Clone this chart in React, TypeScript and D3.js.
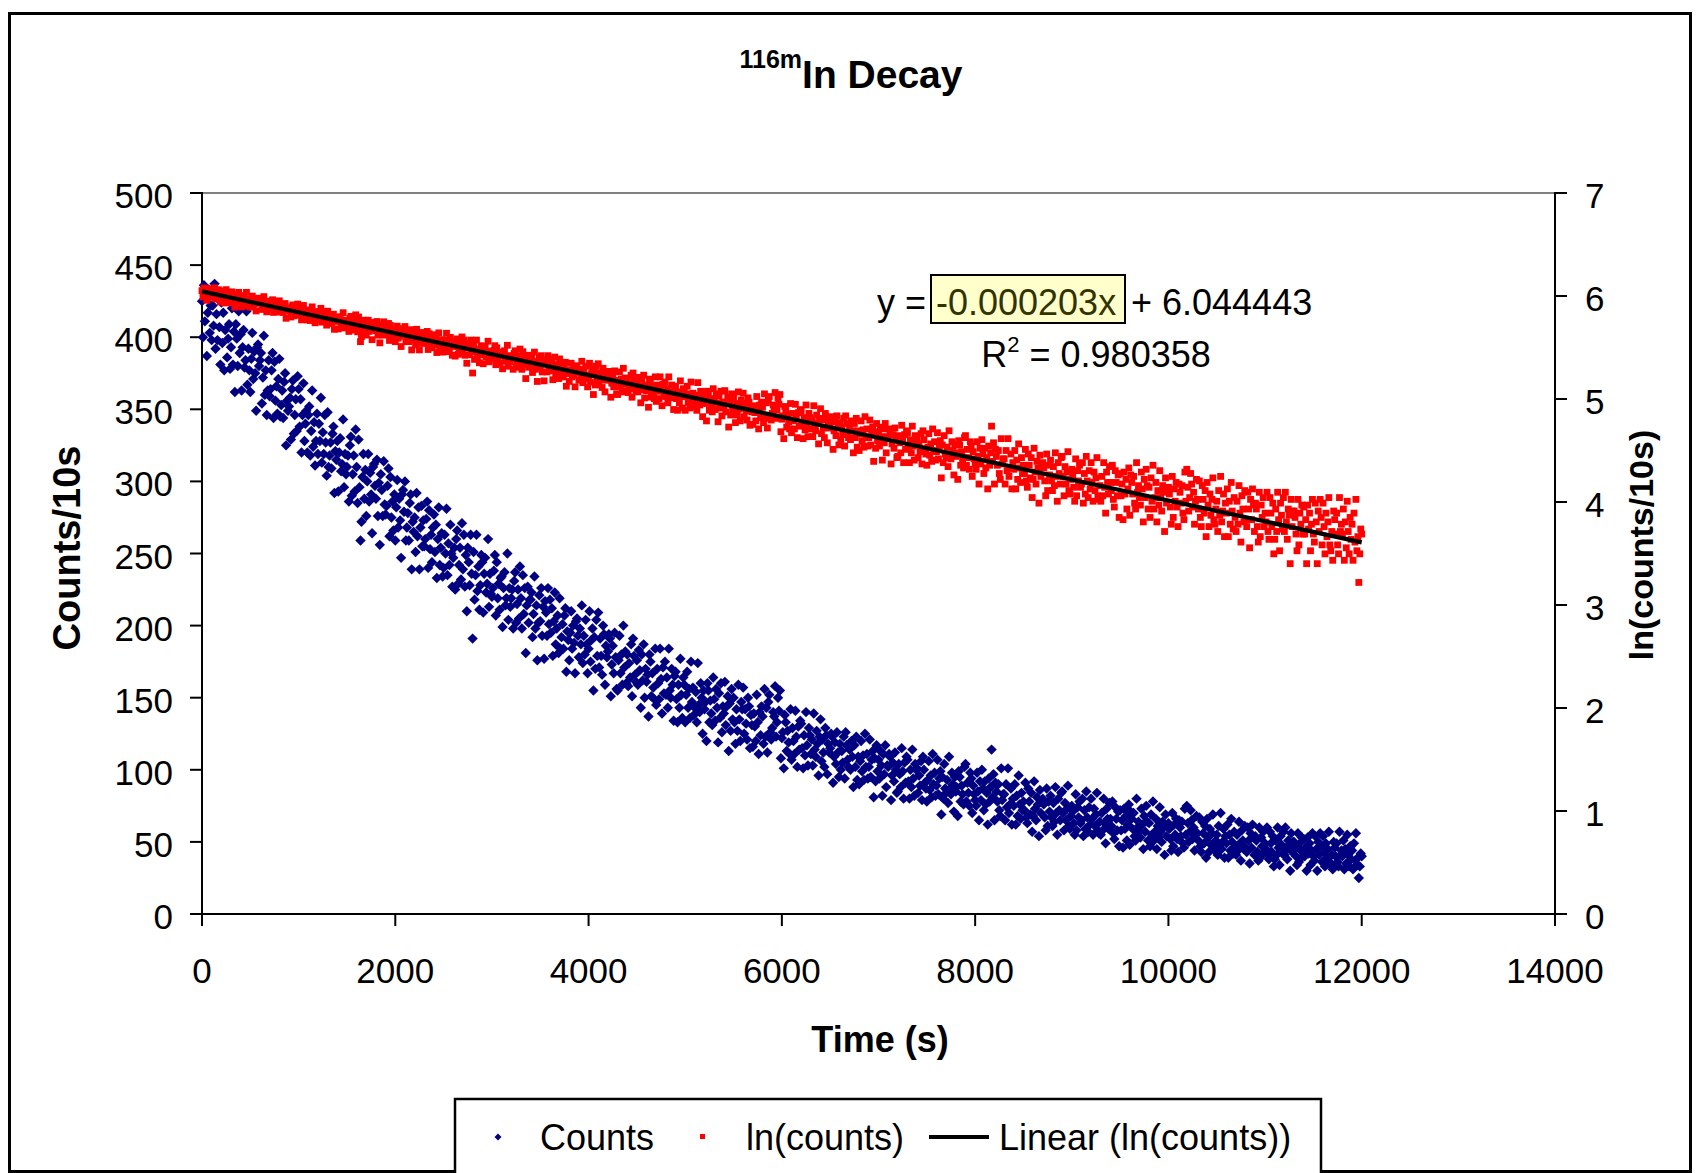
import React from "react";
import * as d3 from "d3";

// Counts per 10 s, one value every 10 s from t = 0 s to t = 12000 s
const counts: number[] = [
  425, 400, 436, 411, 432, 387, 417, 433, 403, 422,
  398, 422, 408, 437, 392, 416, 398, 429, 407, 381,
  424, 396, 417, 377, 405, 429, 386, 399, 409, 378,
  393, 420, 381, 404, 362, 409, 399, 380, 418, 389,
  402, 363, 393, 405, 379, 384, 418, 367, 392, 377,
  362, 385, 403, 371, 390, 375, 349, 393, 395, 380,
  384, 389, 354, 372, 401, 360, 377, 346, 363, 384,
  359, 364, 377, 389, 344, 383, 356, 366, 347, 371,
  385, 345, 353, 363, 344, 369, 375, 325, 356, 349,
  352, 358, 329, 364, 370, 333, 346, 357, 335, 373,
  364, 338, 357, 320, 346, 368, 328, 340, 349, 320,
  346, 352, 318, 335, 363, 324, 341, 311, 328, 347,
  319, 340, 328, 358, 313, 334, 319, 346, 327, 304,
  348, 310, 318, 327, 309, 333, 338, 292, 321, 315,
  328, 293, 320, 330, 307, 312, 343, 296, 319, 305,
  310, 318, 286, 325, 331, 290, 305, 318, 293, 336,
  310, 285, 329, 296, 259, 272, 303, 319, 288, 308,
  276, 300, 319, 286, 306, 291, 264, 310, 312, 297,
  288, 315, 276, 299, 256, 305, 294, 276, 314, 284,
  277, 283, 297, 309, 262, 303, 275, 286, 266, 291,
  259, 282, 301, 268, 288, 273, 247, 291, 294, 279,
  300, 259, 268, 278, 259, 285, 291, 239, 272, 265,
  275, 251, 292, 262, 282, 239, 268, 283, 255, 273,
  255, 260, 274, 286, 240, 280, 253, 263, 244, 268,
  277, 251, 270, 233, 260, 282, 242, 254, 264, 234,
  240, 263, 250, 281, 235, 257, 242, 270, 250, 227,
  247, 254, 225, 260, 266, 229, 242, 254, 232, 271,
  239, 263, 227, 249, 210, 254, 244, 228, 263, 236,
  191, 251, 218, 235, 263, 224, 241, 211, 228, 249,
  244, 209, 236, 247, 223, 229, 260, 213, 236, 222,
  220, 226, 238, 249, 207, 244, 219, 229, 211, 233,
  234, 199, 226, 237, 214, 219, 250, 204, 226, 213,
  219, 225, 198, 231, 237, 202, 215, 225, 205, 241,
  219, 198, 235, 208, 226, 181, 214, 227, 202, 218,
  218, 223, 192, 208, 234, 198, 214, 176, 202, 221,
  203, 226, 193, 213, 177, 217, 209, 193, 226, 201,
  218, 195, 212, 179, 203, 223, 187, 198, 207, 181,
  219, 184, 192, 201, 184, 207, 212, 168, 196, 190,
  176, 195, 210, 184, 200, 188, 167, 203, 205, 193,
  178, 198, 187, 214, 174, 193, 180, 204, 187, 167,
  184, 210, 175, 190, 198, 155, 192, 170, 204, 179,
  209, 171, 191, 179, 166, 200, 194, 159, 186, 178,
  182, 194, 191, 151, 173, 186, 167, 195, 178, 156,
  155, 176, 193, 167, 180, 159, 200, 171, 182, 160,
  180, 158, 174, 164, 187, 151, 191, 179, 166, 161,
  176, 159, 183, 169, 143, 180, 162, 187, 150, 170,
  161, 166, 137, 180, 175, 151, 167, 157, 149, 184,
  145, 170, 160, 149, 184, 163, 139, 171, 153, 175,
  152, 164, 143, 184, 155, 150, 170, 159, 134, 165,
  168, 149, 133, 159, 143, 177, 152, 136, 164, 159,
  133, 152, 168, 143, 156, 136, 175, 147, 157, 138,
  143, 154, 133, 174, 145, 140, 160, 150, 125, 155,
  142, 147, 120, 160, 155, 133, 148, 139, 131, 164,
  149, 134, 156, 143, 119, 153, 136, 160, 126, 144,
  139, 161, 131, 144, 151, 113, 146, 127, 156, 135,
  150, 133, 118, 142, 127, 159, 135, 120, 147, 142,
  157, 125, 142, 132, 121, 150, 144, 115, 138, 131,
  116, 139, 130, 120, 152, 133, 111, 140, 124, 144,
  137, 118, 156, 123, 143, 112, 147, 152, 126, 121,
  129, 140, 137, 158, 123, 133, 150, 141, 155, 108,
  122, 126, 101, 138, 133, 113, 127, 119, 111, 142,
  107, 129, 120, 111, 141, 123, 102, 130, 114, 134,
  132, 115, 101, 124, 110, 140, 117, 103, 129, 124,
  111, 121, 103, 139, 114, 109, 127, 118, 96, 123,
  135, 106, 121, 112, 102, 129, 124, 97, 118, 112,
  115, 125, 123, 91, 109, 119, 104, 126, 112, 95,
  118, 100, 113, 105, 123, 94, 126, 117, 107, 102,
  114, 100, 120, 109, 88, 117, 102, 123, 93, 109,
  90, 106, 120, 99, 110, 93, 125, 102, 111, 94,
  102, 121, 95, 107, 113, 81, 108, 92, 117, 99,
  107, 94, 113, 103, 82, 111, 97, 117, 88, 103,
  102, 111, 109, 79, 96, 105, 92, 112, 100, 84,
  85, 104, 97, 88, 115, 99, 80, 105, 91, 109,
  107, 92, 80, 100, 88, 114, 94, 82, 104, 100,
  101, 84, 96, 89, 106, 79, 109, 100, 91, 87,
  78, 93, 106, 86, 96, 81, 111, 90, 98, 82,
  89, 107, 83, 94, 99, 69, 95, 80, 104, 87,
  84, 93, 77, 109, 87, 83, 98, 90, 71, 95,
  85, 88, 68, 99, 95, 78, 89, 83, 76, 102,
  104, 78, 91, 84, 75, 98, 94, 70, 89, 83,
  79, 75, 98, 85, 65, 92, 79, 100, 87, 72,
  92, 76, 84, 62, 94, 78, 88, 114, 81, 97,
  65, 91, 85, 78, 90, 72, 68, 101, 79, 83,
  83, 65, 90, 74, 101, 70, 76, 87, 62, 80,
  75, 90, 62, 82, 68, 96, 76, 66, 84, 72,
  78, 72, 91, 67, 63, 87, 78, 69, 84, 57,
  68, 92, 73, 65, 81, 76, 54, 86, 70, 79,
  80, 76, 67, 58, 87, 61, 78, 71, 82, 67,
  61, 77, 64, 88, 70, 55, 80, 72, 65, 84,
  85, 70, 58, 77, 65, 73, 89, 61, 59, 68,
  75, 71, 63, 55, 83, 58, 74, 67, 78, 63,
  65, 80, 54, 72, 59, 85, 67, 57, 74, 62,
  80, 66, 55, 73, 61, 69, 84, 58, 56, 64,
  55, 70, 58, 80, 63, 49, 73, 66, 59, 77,
  66, 61, 78, 56, 52, 74, 66, 58, 71, 47,
  72, 58, 65, 46, 73, 59, 68, 51, 62, 76,
  48, 71, 66, 59, 70, 54, 51, 80, 60, 64,
  57, 53, 73, 62, 45, 68, 57, 75, 64, 51,
  63, 47, 69, 55, 78, 51, 57, 66, 45, 61,
  53, 74, 57, 50, 64, 60, 41, 69, 54, 62,
  63, 59, 52, 44, 70, 47, 62, 55, 66, 52,
  43, 65, 60, 54, 64, 49, 46, 73, 55, 75,
  63, 50, 57, 72, 65, 52, 60, 44, 55, 68,
  56, 51, 67, 47, 43, 64, 56, 49, 61, 39,
  66, 53, 43, 59, 48, 56, 69, 46, 44, 51,
  55, 41, 61, 48, 70, 45, 50, 59, 39, 54,
  49, 62, 39, 55, 44, 66, 50, 42, 57, 47,
  41, 55, 44, 64, 49, 37, 58, 51, 45, 61,
  46, 43, 60, 51, 35, 56, 46, 62, 53, 41,
  54, 51, 43, 37, 60, 39, 53, 47, 57, 43,
  49, 45, 60, 41, 38, 57, 49, 43, 54, 33,
  38, 51, 41, 60, 46, 34, 54, 48, 42, 57,
  41, 60, 45, 38, 51, 48, 30, 56, 43, 50,
  50, 47, 40, 34, 56, 36, 49, 44, 53, 40,
  52, 40, 46, 30, 53, 42, 49, 34, 44, 56,
  40, 37, 54, 45, 30, 50, 41, 56, 47, 36,
  54, 43, 33, 49, 39, 45, 57, 36, 34, 41,
  31, 50, 46, 40, 49, 36, 33, 57, 41, 44,
  40, 51, 31, 45, 35, 55, 41, 33, 47, 38,
  44, 31, 49, 37, 56, 34, 39, 25, 33, 42,
  40,
];

const timeStepSeconds = 10;
const xTicks = [0, 2000, 4000, 6000, 8000, 10000, 12000, 14000];
const leftTicks = [0, 50, 100, 150, 200, 250, 300, 350, 400, 450, 500];
const rightTicks = [0, 1, 2, 3, 4, 5, 6, 7];
const fitSlope = -0.000203;
const fitIntercept = 6.044443;
const fitRange = [0, 12000];
const slopeText = "-0.000203x";
const interceptText = "+ 6.044443";
const r2Text = " = 0.980358";
const legendLabels = ["Counts", "ln(counts)", "Linear (ln(counts))"];

const FONT = "'Liberation Sans', Arial, Helvetica, sans-serif";
const BLUE = "#000080";
const RED = "#FF0000";

export default function App() {
  const W = 1698;
  const H = 1173;
  const left = 202;
  const right = 1555;
  const top = 193;
  const bottom = 914;

  const x = d3.scaleLinear().domain([0, 14000]).range([left, right]);
  const yL = d3.scaleLinear().domain([0, 500]).range([bottom, top]);
  const yR = d3.scaleLinear().domain([0, 7]).range([bottom, top]);

  const pts = counts.map((c, i) => ({ t: i * timeStepSeconds, c, lnc: Math.log(c) }));
  const diamond = "M0,-5.2L5.2,0L0,5.2L-5.2,0Z";
  const sq = 6.8;

  const fitLine = d3
    .line<number>()
    .x((t) => x(t))
    .y((t) => yR(fitIntercept + fitSlope * t));

  const tickFs = 35;

  return (
    <svg
      width={W}
      height={H}
      style={{ position: "absolute", left: 0, top: 0, display: "block" }}
      fontFamily={FONT}
    >
      <rect x={0} y={0} width={W} height={H} fill="#fff" />
      {/* chart frame */}
      <rect x={9.5} y={13.5} width={1681} height={1158} fill="#fff" stroke="#000" strokeWidth={3} />

      {/* title */}
      <text x={851} y={88} textAnchor="middle" fontWeight="bold">
        <tspan fontSize={25} dy={-20}>116m</tspan>
        <tspan fontSize={39} dy={20}>In Decay</tspan>
      </text>

      {/* plot area top border */}
      <line x1={left} x2={right} y1={top} y2={top} stroke="#808080" strokeWidth={2} />

      {/* axes */}
      <line x1={left} x2={left} y1={top - 1} y2={bottom + 12} stroke="#000" strokeWidth={2} />
      <line x1={right} x2={right} y1={top - 1} y2={bottom + 12} stroke="#000" strokeWidth={2} />
      <line x1={left - 12} x2={right + 12} y1={bottom} y2={bottom} stroke="#000" strokeWidth={2} />

      {leftTicks.map((v) => (
        <g key={"l" + v}>
          <line x1={left - 12} x2={left} y1={yL(v)} y2={yL(v)} stroke="#000" strokeWidth={2} />
          <text x={173} y={yL(v) + 15} fontSize={tickFs} textAnchor="end">
            {v}
          </text>
        </g>
      ))}
      {rightTicks.map((v) => (
        <g key={"r" + v}>
          <line x1={right} x2={right + 12} y1={yR(v)} y2={yR(v)} stroke="#000" strokeWidth={2} />
          <text x={1585} y={yR(v) + 15} fontSize={tickFs} textAnchor="start">
            {v}
          </text>
        </g>
      ))}
      {xTicks.map((v) => (
        <g key={"x" + v}>
          <line x1={x(v)} x2={x(v)} y1={bottom} y2={bottom + 12} stroke="#000" strokeWidth={2} />
          <text x={x(v)} y={983} fontSize={tickFs} textAnchor="middle">
            {v}
          </text>
        </g>
      ))}

      {/* axis titles */}
      <text x={880} y={1052} fontSize={36} fontWeight="bold" textAnchor="middle">
        Time (s)
      </text>
      <text
        transform="translate(80,548) rotate(-90)"
        fontSize={38}
        fontWeight="bold"
        textAnchor="middle"
      >
        Counts/10s
      </text>
      <text
        transform="translate(1653,545) rotate(-90)"
        fontSize={34}
        fontWeight="bold"
        textAnchor="middle"
      >
        ln(counts/10s)
      </text>

      {/* data */}
      <g fill={BLUE}>
        {pts.map((p, i) => (
          <path key={"b" + i} d={diamond} transform={`translate(${x(p.t)},${yL(p.c)})`} />
        ))}
      </g>
      <g fill={RED}>
        {pts.map((p, i) => (
          <rect key={"r" + i} x={x(p.t) - sq / 2} y={yR(p.lnc) - sq / 2} width={sq} height={sq} />
        ))}
      </g>
      <path d={fitLine(fitRange) || ""} stroke="#000" strokeWidth={4.2} fill="none" />

      {/* trendline equation */}
      <rect x={931} y={275} width={194} height={48} fill="#FFFFCC" stroke="#000" strokeWidth={2} />
      <text fontSize={36} y={315}>
        <tspan x={877}>y =</tspan>
        <tspan x={936} fill="#333300">{slopeText}</tspan>
        <tspan x={1131}>{interceptText}</tspan>
      </text>
      <text fontSize={36} y={367} x={1096} textAnchor="middle">
        <tspan>R</tspan>
        <tspan fontSize={22} dy={-15}>2</tspan>
        <tspan dy={15}>{r2Text}</tspan>
      </text>

      {/* legend */}
      <rect x={455} y={1099} width={866} height={80} fill="#fff" stroke="#000" strokeWidth={2.5} />
      <path d="M0,-3.5L3.5,0L0,3.5L-3.5,0Z" fill={BLUE} transform="translate(498,1137)" />
      <text x={540} y={1150} fontSize={36}>{legendLabels[0]}</text>
      <rect x={700} y={1134} width={5} height={5} fill={RED} />
      <text x={746} y={1150} fontSize={36}>{legendLabels[1]}</text>
      <line x1={929} x2={989} y1={1137} y2={1137} stroke="#000" strokeWidth={4} />
      <text x={999} y={1150} fontSize={36}>{legendLabels[2]}</text>
    </svg>
  );
}
